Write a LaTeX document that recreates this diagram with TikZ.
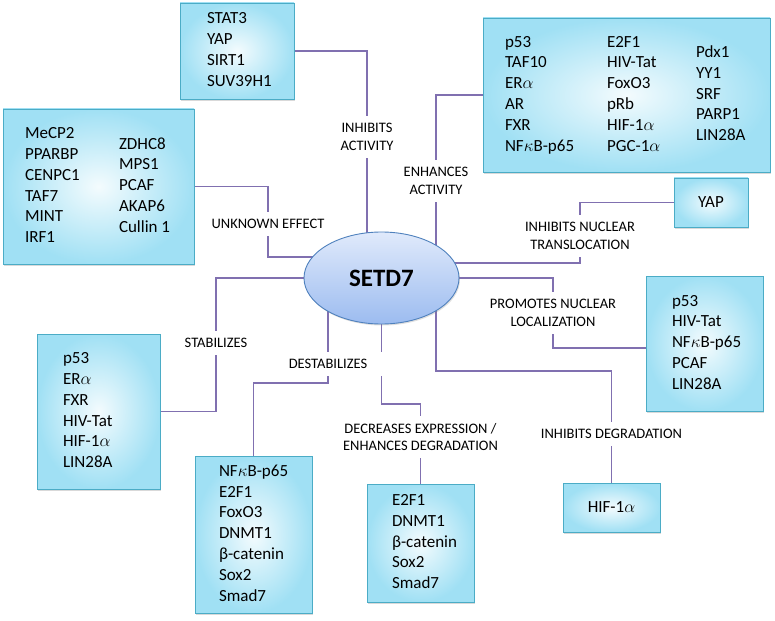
\documentclass[tikz,border=0pt]{standalone}
\usepackage{fontspec}
\setmainfont{Carlito}
\usepackage{tikz}
\usetikzlibrary{shapes.geometric,shadows,backgrounds}
\definecolor{linkpurple}{RGB}{128,112,176}
\definecolor{boxedge}{RGB}{75,172,198}
\definecolor{boxcyan}{RGB}{160,224,244}
\definecolor{setdblue}{RGB}{79,129,189}
\definecolor{setdtop}{RGB}{224,234,251}
\definecolor{setdbottom}{RGB}{156,188,240}
\newcommand{\genelist}[2]{\makebox[#1][l]{\begin{tabular}[c]{@{}l@{}}#2\end{tabular}}}

\begin{document}
\begin{tikzpicture}[x=1pt, y=-1pt, >=stealth]
  \tikzstyle{genebox} = [rectangle, draw=boxedge, line width=0.9pt, inner color=white!88!boxcyan, outer color=boxcyan, drop shadow={opacity=0.3, shadow xshift=1.2pt, shadow yshift=-1.8pt}, inner sep=0pt, font=\fontsize{17}{20.8}\selectfont]
  \tikzstyle{effect} = [fill=white, align=center, inner xsep=6pt, inner ysep=7pt, font=\fontsize{14.5}{17.5}\selectfont]
  \tikzstyle{link} = [draw=linkpurple, line width=1.1pt]

  \useasboundingbox (0,0) rectangle (775,620);

  % central protein
  \node[ellipse, draw=setdblue, line width=0.9pt, top color=setdtop, bottom color=setdbottom, minimum width=155pt, minimum height=92pt, inner sep=0pt, drop shadow={opacity=0.25, shadow xshift=1pt, shadow yshift=-1.5pt}, font=\bfseries\fontsize{25}{30}\selectfont] (setd7) at (381.5,278) {SETD7};

  % partner boxes
  \node[genebox, minimum width=114pt, minimum height=96pt] (actInh) at (237,51) {\genelist{60pt}{STAT3\\YAP\\SIRT1\\SUV39H1}};
  \node[genebox, minimum width=191pt, minimum height=155pt] (unkEff) at (98.5,186.5) {\genelist{94pt}{MeCP2\\PPARBP\\CENPC1\\TAF7\\MINT\\IRF1}\genelist{53pt}{ZDHC8\\MPS1\\PCAF\\AKAP6\\Cullin 1}};
  \node[genebox, minimum width=287pt, minimum height=154pt] (actEnh) at (626.5,95) {\genelist{102pt}{p53\\TAF10\\ER$\alpha$\\AR\\FXR\\NF$\kappa$B-p65}\genelist{89pt}{E2F1\\HIV-Tat\\FoxO3\\pRb\\HIF-1$\alpha$\\PGC-1$\alpha$}\genelist{52pt}{Pdx1\\YY1\\SRF\\PARP1\\LIN28A}};
  \node[genebox, minimum width=74pt, minimum height=49pt] (nucInh) at (711,202.5) {YAP};
  \node[genebox, minimum width=117pt, minimum height=135pt] (nucLoc) at (704.5,343.5) {\genelist{65pt}{p53\\HIV-Tat\\NF$\kappa$B-p65\\PCAF\\LIN28A}};
  \node[genebox, minimum width=97pt, minimum height=49pt] (degInh) at (611.5,507.5) {HIF-1$\alpha$};
  \node[genebox, minimum width=107pt, minimum height=118pt] (decExp) at (420.5,543) {\genelist{57pt}{E2F1\\DNMT1\\β-catenin\\Sox2\\Smad7}};
  \node[genebox, minimum width=117pt, minimum height=157pt] (destab) at (253.5,534.5) {\genelist{69pt}{NF$\kappa$B-p65\\E2F1\\FoxO3\\DNMT1\\β-catenin\\Sox2\\Smad7}};
  \node[genebox, minimum width=123pt, minimum height=155pt] (stab) at (98.5,411.5) {\genelist{71pt}{p53\\ER$\alpha$\\FXR\\HIV-Tat\\HIF-1$\alpha$\\LIN28A}};

  % effect labels
  \node[effect] (actInhLbl) at (367,137) {INHIBITS\\ACTIVITY};
  \node[effect] (unkEffLbl) at (268,224) {UNKNOWN EFFECT};
  \node[effect] (actEnhLbl) at (436,181) {ENHANCES\\ACTIVITY};
  \node[effect] (nucInhLbl) at (580,236) {INHIBITS NUCLEAR\\TRANSLOCATION};
  \node[effect] (nucLocLbl) at (553,313) {PROMOTES NUCLEAR\\LOCALIZATION};
  \node[effect] (degInhLbl) at (611.5,434) {INHIBITS DEGRADATION};
  \node[effect] (decExpLbl) at (420.5,437) {DECREASES EXPRESSION /\\ENHANCES DEGRADATION};
  \node[effect, minimum width=118pt] (destabLbl) at (328,364) {DESTABILIZES};
  \node[effect] (stabLbl) at (216,343) {STABILIZES};

  % bends
  \coordinate (unkEffEnd) at (381.5,257);
  \coordinate (nucInhEnd) at (381.5,263);
  \coordinate (nucLocEnd) at (646,348);
  \coordinate (degInhBend) at (436,371);
  \coordinate (decExpBend) at (381.5,404);
  \coordinate (destabBend) at (328,383);

  % connectors
  \begin{scope}[on background layer]
    \draw[link] (actInh.east) -| (actInhLbl.north);
    \draw[link] (actInhLbl.south) -- (actInhLbl.south |- setd7.center);
    \draw[link] (unkEff.east) -| (unkEffLbl.north);
    \draw[link] (unkEffLbl.south) |- (unkEffEnd);
    \draw[link] (actEnh.west) -| (actEnhLbl.north);
    \draw[link] (actEnhLbl.south) -- (actEnhLbl.south |- setd7.center);
    \draw[link] (nucInh.west) -| (nucInhLbl.north);
    \draw[link] (nucInhLbl.south) |- (nucInhEnd);
    \draw[link] (setd7.center) -| (nucLocLbl.north);
    \draw[link] (nucLocLbl.south) |- (nucLocEnd);
    \draw[link] (degInhBend |- setd7.center) -- (degInhBend) -| (degInhLbl.north);
    \draw[link] (degInhLbl.south) -- (degInh.north);
    \draw[link] (setd7.center) -- (decExpBend) -| (decExpLbl.north);
    \draw[link] (decExpLbl.south) -- (decExp.north);
    \draw[link] (destabLbl.north |- setd7.center) -- (destabLbl.north);
    \draw[link] (destabLbl.south) -- (destabBend) -| (destab.north);
    \draw[link] (setd7.center) -| (stabLbl.north);
    \draw[link] (stabLbl.south) |- (stab.east);
  \end{scope}
\end{tikzpicture}
\end{document}
